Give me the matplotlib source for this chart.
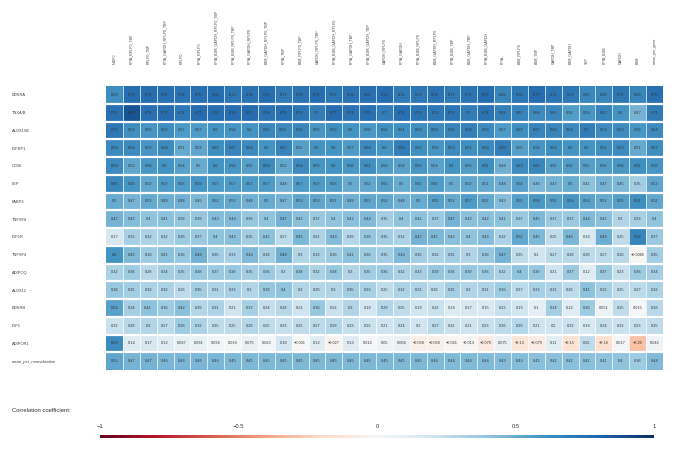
import numpy as np
import matplotlib
matplotlib.use("Agg")
import matplotlib.pyplot as plt

plt.rcParams['font.family'] = ['Liberation Sans', 'DejaVu Sans']

# column labels (normalisation methods), sorted by mean correlation
methods = ["N-EFC", "PPIA_RPLP0_TBP", "RPLP0_TBP", "PPIA_GAPDH_RPLP0_TBP", "RPLP0",
           "PPIA_RPLP0", "PPIA_B2M_GAPDH_RPLP0_TBP", "PPIA_B2M_RPLP0_TBP",
           "PPIA_GAPDH_RPLP0", "B2M_GAPDH_RPLP0_TBP", "PPIA_TBP", "B2M_RPLP0_TBP",
           "GAPDH_RPLP0_TBP", "PPIA_B2M_GAPDH_RPLP0", "PPIA_GAPDH_TBP",
           "PPIA_B2M_GAPDH_TBP", "GAPDH_RPLP0", "PPIA_GAPDH", "PPIA_B2M_RPLP0",
           "B2M_GAPDH_RPLP0", "PPIA_B2M_TBP", "B2M_GAPDH_TBP", "PPIA_B2M_GAPDH",
           "PPIA", "B2M_RPLP0", "B2M_TBP", "GAPDH_TBP", "B2M_GAPDH", "TBP",
           "PPIA_B2M", "GAPDH", "B2M", "mean_per_gene"]

genes = ["EDNRA", "TNXA/B", "ALOX15B", "IGFBP1", "CD36", "LEP", "FABP4", "TNFSF8",
         "IGF1R", "TNFSF4", "ADIPOQ", "ALOX12", "EDNRB", "IGF1", "ADIPOR1",
         "mean_per_normalization"]

EDNRA = [0.62, 0.76, 0.76, 0.75, 0.74, 0.75, 0.76, 0.72, 0.74, 0.76, 0.71, 0.74, 0.76, 0.72, 0.74, 0.75,
         0.76, 0.71, 0.72, 0.74, 0.71, 0.73, 0.76, 0.66, 0.72, 0.77, 0.73, 0.72, 0.65, 0.66, 0.72, 0.66, 0.75]
TNXA = [0.75, 0.86, 0.75, 0.77, 0.72, 0.77, 0.76, 0.76, 0.77, 0.74, 0.75, 0.73, 0.7, 0.77, 0.74, 0.75,
        0.7, 0.75, 0.73, 0.72, 0.73, 0.7, 0.74, 0.68, 0.67, 0.64, 0.65, 0.56, 0.59, 0.67, 0.6, 0.47, 0.71]
ALOX15B = [0.72, 0.62, 0.59, 0.62, 0.57, 0.57, 0.6, 0.59, 0.6, 0.65, 0.64, 0.65, 0.59, 0.62, 0.6, 0.58,
           0.61, 0.61, 0.62, 0.64, 0.66, 0.68, 0.64, 0.57, 0.62, 0.67, 0.66, 0.64, 0.7, 0.63, 0.63, 0.59, 0.64]
IGFBP1 = [0.64, 0.64, 0.59, 0.64, 0.51, 0.53, 0.62, 0.67, 0.64, 0.6, 0.67, 0.55, 0.6, 0.6, 0.57, 0.64,
          0.6, 0.69, 0.61, 0.59, 0.63, 0.61, 0.64, 0.69, 0.55, 0.59, 0.62, 0.6, 0.6, 0.61, 0.63, 0.51, 0.62]
CD36 = [0.64, 0.53, 0.58, 0.6, 0.54, 0.5, 0.6, 0.59, 0.55, 0.64, 0.52, 0.64, 0.59, 0.6, 0.58, 0.61,
        0.56, 0.54, 0.59, 0.54, 0.6, 0.56, 0.61, 0.48, 0.63, 0.65, 0.55, 0.56, 0.55, 0.56, 0.58, 0.61, 0.59]
LEP = [0.65, 0.59, 0.52, 0.57, 0.56, 0.59, 0.57, 0.57, 0.57, 0.57, 0.48, 0.57, 0.57, 0.56, 0.5, 0.52,
       0.55, 0.5, 0.55, 0.56, 0.5, 0.52, 0.51, 0.48, 0.54, 0.46, 0.47, 0.5, 0.41, 0.47, 0.45, 0.35, 0.53]
FABP4 = [0.5, 0.47, 0.51, 0.49, 0.48, 0.45, 0.52, 0.51, 0.48, 0.5, 0.47, 0.53, 0.53, 0.51, 0.49, 0.53,
         0.52, 0.48, 0.5, 0.55, 0.51, 0.57, 0.52, 0.43, 0.55, 0.58, 0.55, 0.59, 0.54, 0.51, 0.55, 0.61, 0.52]
TNFSF8 = [0.47, 0.43, 0.4, 0.41, 0.39, 0.39, 0.43, 0.44, 0.39, 0.4, 0.47, 0.42, 0.37, 0.4, 0.42, 0.44,
          0.35, 0.4, 0.41, 0.37, 0.47, 0.42, 0.42, 0.41, 0.37, 0.45, 0.37, 0.37, 0.44, 0.42, 0.3, 0.33, 0.4]
IGF1R = [0.17, 0.33, 0.32, 0.32, 0.36, 0.37, 0.4, 0.42, 0.35, 0.41, 0.27, 0.45, 0.31, 0.43, 0.29, 0.39,
         0.35, 0.32, 0.47, 0.45, 0.42, 0.4, 0.43, 0.32, 0.52, 0.45, 0.25, 0.46, 0.16, 0.49, 0.25, 0.66, 0.37]
TNFSF4 = [0.6, 0.45, 0.36, 0.41, 0.38, 0.48, 0.35, 0.33, 0.44, 0.34, 0.48, 0.3, 0.33, 0.36, 0.41, 0.36,
          0.35, 0.44, 0.35, 0.32, 0.35, 0.3, 0.38, 0.47, 0.25, 0.2, 0.27, 0.28, 0.26, 0.27, 0.28, -0.0085, 0.35]
ADIPOQ = [0.32, 0.36, 0.28, 0.34, 0.35, 0.38, 0.37, 0.38, 0.35, 0.36, 0.3, 0.38, 0.32, 0.38, 0.3, 0.35,
          0.36, 0.32, 0.33, 0.39, 0.36, 0.39, 0.36, 0.32, 0.4, 0.39, 0.21, 0.37, 0.12, 0.37, 0.23, 0.36, 0.34]
ALOX12 = [0.38, 0.35, 0.32, 0.32, 0.26, 0.35, 0.31, 0.33, 0.3, 0.39, 0.4, 0.3, 0.29, 0.3, 0.35, 0.33,
          0.25, 0.32, 0.31, 0.26, 0.35, 0.3, 0.31, 0.36, 0.27, 0.33, 0.31, 0.26, 0.41, 0.33, 0.25, 0.27, 0.32]
EDNRB = [0.54, 0.34, 0.41, 0.36, 0.42, 0.29, 0.31, 0.21, 0.33, 0.24, 0.28, 0.21, 0.38, 0.22, 0.3, 0.18,
         0.29, 0.25, 0.19, 0.22, 0.14, 0.17, 0.15, 0.23, 0.19, 0.1, 0.34, 0.12, 0.36, 0.051, 0.25, 0.015, 0.28]
IGF1 = [0.22, 0.28, 0.3, 0.27, 0.36, 0.32, 0.25, 0.25, 0.29, 0.25, 0.23, 0.25, 0.27, 0.29, 0.23, 0.22,
        0.21, 0.24, 0.2, 0.27, 0.22, 0.21, 0.23, 0.26, 0.29, 0.21, 0.2, 0.22, 0.16, 0.24, 0.22, 0.23, 0.25]
ADIPOR1 = [0.63, 0.14, 0.17, 0.12, 0.087, 0.081, 0.034, 0.019, 0.075, 0.023, 0.18, -0.001, 0.12, -0.027,
           0.13, 0.012, 0.05, 0.066, -0.058, -0.059, -0.021, -0.013, -0.079, 0.075, -0.13, -0.079, 0.11,
           -0.15, 0.25, -0.16, 0.017, -0.29, 0.042]
MEAN_NORM = [0.53, 0.47, 0.47, 0.46, 0.46, 0.46, 0.46, 0.45, 0.45, 0.45, 0.45, 0.45, 0.45, 0.45, 0.45, 0.45,
             0.45, 0.45, 0.45, 0.44, 0.44, 0.44, 0.44, 0.43, 0.43, 0.42, 0.42, 0.42, 0.42, 0.41, 0.4, 0.36, 0.44]

data = np.array([EDNRA, TNXA, ALOX15B, IGFBP1, CD36, LEP, FABP4, TNFSF8, IGF1R, TNFSF4,
                 ADIPOQ, ALOX12, EDNRB, IGF1, ADIPOR1, MEAN_NORM])
nrow, ncol = data.shape

fig = plt.figure(figsize=(6.85, 4.49), dpi=100)
ax = fig.add_axes([106 / 685, 1 - 370 / 449, 557 / 685, 284 / 449])
mesh = ax.pcolormesh(data, cmap="RdBu", vmin=-1, vmax=1)
ax.set_xlim(0, ncol)
ax.set_ylim(nrow, 0)
for s in ax.spines.values():
    s.set_visible(False)
# white separators: thick between rows, thin between columns
for i in range(1, nrow):
    ax.axhline(i, color="white", lw=1.6)
for j in range(1, ncol):
    ax.axvline(j, color="white", lw=0.5)

for i in range(nrow):
    for j in range(ncol):
        txt = format(data[i, j], ".2g").replace("-", "\u2212")
        ax.text(j + 0.5, i + 0.5, txt, ha="center", va="center", fontsize=2.8, color="#333333")

ax.xaxis.tick_top()
ax.set_xticks(np.arange(ncol) + 0.5)
ax.set_xticklabels(methods, rotation=90, fontsize=2.6, color="#444444", va="bottom")
ax.set_yticks(np.arange(nrow) + 0.5)
ax.set_yticklabels(genes, fontsize=2.9, color="#444444", ha="left")
ax.tick_params(axis="x", length=0, pad=16)
ax.tick_params(axis="y", length=0, pad=68)

fig.text(12 / 685, 1 - 410 / 449, "Correlation coefficient:", fontsize=4.2, color="#333333",
         va="center")

cax = fig.add_axes([100 / 685, 1 - 438 / 449, 554 / 685, 3 / 449])
cb = fig.colorbar(mesh, cax=cax, orientation="horizontal")
cb.outline.set_visible(False)
cb.set_ticks([-1, -0.5, 0, 0.5, 1])
cb.set_ticklabels(["\u22121", "\u22120.5", "0", "0.5", "1"])
cax.xaxis.set_ticks_position("top")
cax.tick_params(length=0, labelsize=4.2, pad=4, labelcolor="#333333")

plt.savefig("out.png", dpi=100)
plt.close()
